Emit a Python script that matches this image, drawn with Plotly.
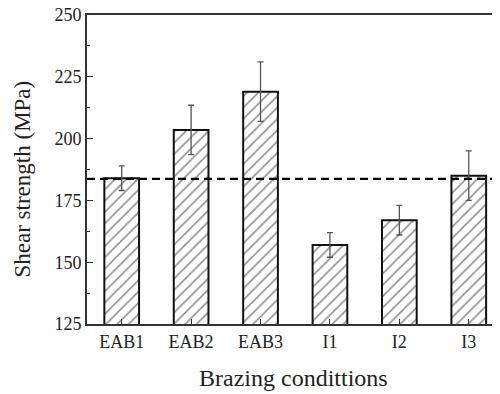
import plotly.graph_objects as go

categories = ["EAB1", "EAB2", "EAB3", "I1", "I2", "I3"]
shear_strength = [184, 203.5, 219, 157, 167, 185]
error = [5, 10, 12, 5, 6, 10]
reference_strength = 183.7
y_ticks = [125, 150, 175, 200, 225, 250]

fig = go.Figure()
fig.add_trace(go.Bar(
    x=categories, y=shear_strength,
    width=0.5,
    marker=dict(color="white",
                line=dict(color="#111", width=2),
                pattern=dict(shape="/", fgcolor="#222", bgcolor="white", size=8, solidity=0.2)),
    error_y=dict(type="data", array=error, visible=True, color="#555", thickness=1.3, width=3),
    showlegend=False,
))
fig.add_hline(y=reference_strength, line=dict(color="black", width=2.2, dash="8px,5px"))

font_family = "Liberation Serif"
fig.update_layout(
    width=492, height=386,
    margin=dict(l=79, r=0, t=7, b=70, autoexpand=False),
    plot_bgcolor="white", paper_bgcolor="white",
    font=dict(family=font_family, color="#222", size=18),
)
fig.update_xaxes(
    range=[-0.5, 5.45],
    showline=True, linecolor="#333", linewidth=2, mirror=True,
    ticks="inside", ticklen=5, tickcolor="#333", tickwidth=1,
    tickfont=dict(size=18, family=font_family),
    showgrid=False, zeroline=False, automargin=False,
    ticklabeloverflow="allow",
)
fig.update_yaxes(
    range=[125, 250], tickvals=y_ticks,
    showline=True, linecolor="#333", linewidth=2, mirror=False,
    ticks="inside", ticklen=6, tickcolor="#333", tickwidth=1,
    minor=dict(ticks="inside", ticklen=3, tickcolor="#333", dtick=12.5, tick0=125),
    tickfont=dict(size=18, family=font_family),
    showgrid=False, zeroline=False, automargin=False,
    ticklabeloverflow="allow",
)
fig.add_annotation(text="Shear strength (MPa)", xref="paper", yref="paper",
                   x=0, y=0.5, xanchor="center", yanchor="middle", textangle=-90,
                   xshift=-65, yshift=-10, showarrow=False,
                   font=dict(size=23, family=font_family, color="#222"))
fig.add_annotation(text="Brazing condittions", xref="paper", yref="paper",
                   x=0.5, y=0, xanchor="center", yanchor="middle",
                   yshift=-54, showarrow=False,
                   font=dict(size=24, family=font_family, color="#222"))
fig.write_html("out.html")
